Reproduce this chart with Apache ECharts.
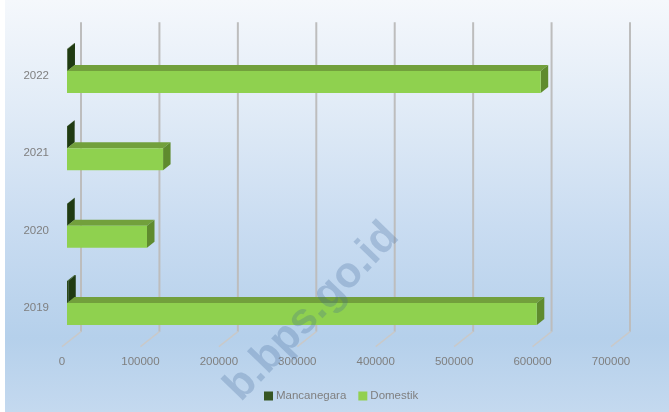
<!DOCTYPE html>
<html>
<head>
<meta charset="utf-8">
<script src="https://cdn.jsdelivr.net/npm/echarts@6/dist/echarts.min.js"></script>
<style>
  html, body { margin: 0; padding: 0; background: #ffffff; }
  #bg {
    position: absolute; left: 5px; top: 0; width: 664px; height: 412px;
    background: linear-gradient(to bottom, #f5f8fc 0%, #e2ecf7 25%, #c9dcf1 55%, #b5d0eb 82%, #c4d9ef 100%);
  }
  #chart { position: absolute; left: 0; top: 0; width: 669px; height: 412px; }
</style>
</head>
<body>
<div id="bg"></div>
<div id="chart"></div>
<script>
// data
const years = ['2019', '2020', '2021', '2022'];
const mancanegara = [1600, 300, 200, 600];
const domestik = [599000, 102000, 122500, 604000];
const xTicks = [0, 100000, 200000, 300000, 400000, 500000, 600000, 700000];

// 3D look
const FRONT_X = 5, FRONT_Y = -5;      // bar front plane vs floor front
const DEPTH_X = 7.5, DEPTH_Y = 6;     // bar depth
const WALL_X = 19, WALL_Y = 15;       // back wall offset
const BAR_H = 22;

function boxRenderer(offsetY, colors) {
    return function (params, api) {
        const cat = api.value(1);
        const p0 = api.coord([0, cat]);
        const p1 = api.coord([api.value(0), cat]);
        const xa = p0[0] + FRONT_X;
        const xb = p1[0] + FRONT_X;
        const yt = p0[1] + FRONT_Y + offsetY;
        const h = BAR_H;
        return {
            type: 'group',
            children: [
                {
                    type: 'polygon',
                    shape: { points: [[xa, yt], [xb, yt], [xb + DEPTH_X, yt - DEPTH_Y], [xa + DEPTH_X, yt - DEPTH_Y]] },
                    style: { fill: colors.top }
                },
                {
                    type: 'polygon',
                    shape: { points: [[xb, yt], [xb + DEPTH_X, yt - DEPTH_Y], [xb + DEPTH_X, yt - DEPTH_Y + h], [xb, yt + h]] },
                    style: { fill: colors.side }
                },
                {
                    type: 'rect',
                    shape: { x: xa, y: yt, width: Math.max(xb - xa, 0.5), height: h },
                    style: { fill: colors.front }
                }
            ]
        };
    };
}

function gridRenderer(params, api) {
    const cs = params.coordSys;
    const x = api.coord([api.value(0), 0])[0];
    const bottom = cs.y + cs.height;
    return {
        type: 'group',
        children: [
            {
                type: 'line',
                shape: { x1: x + WALL_X, y1: cs.y - WALL_Y, x2: x + WALL_X, y2: bottom - WALL_Y },
                style: { stroke: '#bdbdbd', lineWidth: 2 }
            },
            {
                type: 'line',
                shape: { x1: x + WALL_X, y1: bottom - WALL_Y, x2: x, y2: bottom },
                style: { stroke: '#c9c9c9', lineWidth: 1.5 }
            }
        ]
    };
}

const chart = echarts.init(document.getElementById('chart'));

const option = {
    backgroundColor: 'transparent',
    animation: false,
    textStyle: { fontFamily: 'Liberation Sans' },
    grid: { left: 62, right: 58, top: 37.3, bottom: 65.3 },
    xAxis: {
        type: 'value',
        min: 0,
        max: 700000,
        interval: 100000,
        axisLine: { show: false },
        axisTick: { show: false },
        splitLine: { show: false },
        axisLabel: {
            color: '#7f7f7f',
            fontSize: 11.5,
            margin: 9,
            formatter: v => String(v)
        }
    },
    yAxis: {
        type: 'category',
        data: years,
        axisLine: { show: false },
        axisTick: { show: false },
        axisLabel: { color: '#7f7f7f', fontSize: 11.5, margin: 13 }
    },
    legend: {
        data: ['Mancanegara', 'Domestik'],
        left: 259,
        top: 385,
        icon: 'rect',
        itemWidth: 9,
        itemHeight: 9,
        itemGap: 12,
        textStyle: { color: '#7f7f7f', fontSize: 11.5, padding: [0, 0, 0, -2] }
    },
    series: [
        {
            name: 'grid',
            type: 'custom',
            silent: true,
            z: 1,
            renderItem: gridRenderer,
            data: xTicks.map(t => [t, 0])
        },
        {
            name: 'Mancanegara',
            type: 'custom',
            z: 2,
            itemStyle: { color: '#375623' },
            renderItem: boxRenderer(-BAR_H, { front: '#2c4a19', top: '#3a5e22', side: '#203b12' }),
            data: mancanegara.map((v, i) => [v, i])
        },
        {
            name: 'Domestik',
            type: 'custom',
            z: 3,
            itemStyle: { color: '#92d050' },
            renderItem: boxRenderer(0, { front: '#8fd14f', top: '#72a03c', side: '#5f8b2e' }),
            data: domestik.map((v, i) => [v, i])
        }
    ],
    graphic: [
        {
            type: 'text',
            x: 312,
            y: 312,
            rotation: 0.8,
            z: 100,
            silent: true,
            style: {
                text: 'b.bps.go.id',
                font: 'bold 43px "Liberation Sans"',
                fill: 'rgba(60, 100, 150, 0.26)',
                align: 'center',
                verticalAlign: 'middle'
            }
        }
    ]
};

chart.setOption(option);
window.addEventListener('resize', () => chart.resize());
</script>
</body>
</html>
